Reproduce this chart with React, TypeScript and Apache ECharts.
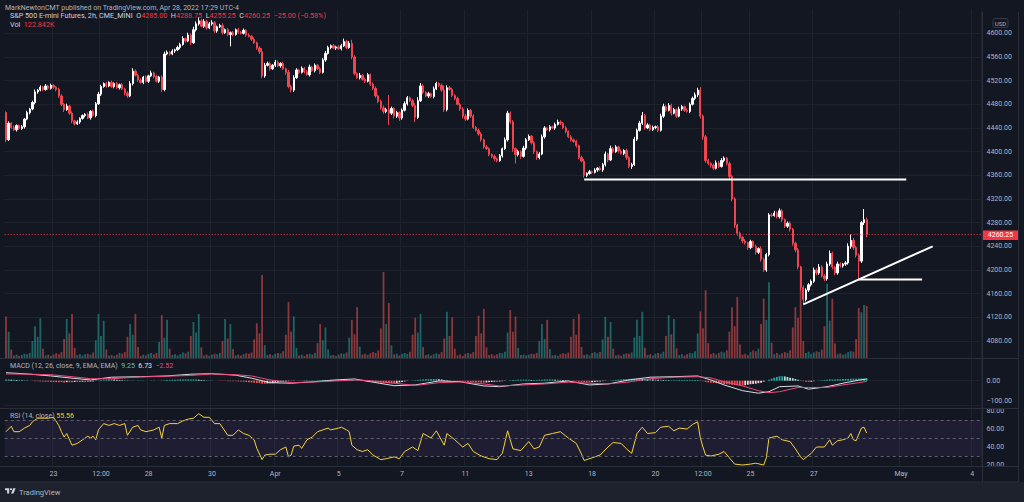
import React, { useEffect, useRef } from "react";
import * as echarts from "echarts";

// ---------- DATA (2h bars, ES futures, Mar 21 12:00 -> Apr 28 16:00) ----------
const firstOpen = 4466;
const closes = [
  4420, 4448, 4441, 4437, 4444, 4439, 4442, 4455, 4466, 4472,
  4483, 4501, 4504, 4509, 4505, 4511, 4507, 4512, 4509, 4505,
  4494, 4480, 4471, 4477, 4465, 4452, 4447, 4450, 4456, 4461,
  4463, 4457, 4468, 4461, 4481, 4497, 4510, 4515, 4511, 4517,
  4510, 4515, 4508, 4513, 4506, 4499, 4494, 4515, 4536, 4529,
  4521, 4517, 4526, 4519, 4528, 4533, 4527, 4519, 4526, 4505,
  4565, 4568, 4565, 4570, 4572, 4576, 4581, 4591, 4587, 4597,
  4584, 4606, 4616, 4621, 4612, 4620, 4609, 4616, 4618, 4604,
  4611, 4613, 4601, 4606, 4598, 4601, 4598, 4606, 4602, 4600,
  4605, 4597, 4595, 4590, 4584, 4575, 4569, 4528, 4546, 4549,
  4540, 4546, 4551, 4545, 4549, 4540, 4534, 4510, 4504, 4525,
  4538, 4534, 4541, 4535, 4530, 4543, 4537, 4546, 4540, 4534,
  4555, 4566, 4576, 4579, 4575, 4577, 4574, 4579, 4586, 4576,
  4583, 4560, 4532, 4525, 4529, 4522, 4519, 4530, 4514, 4507,
  4494, 4485, 4474, 4468, 4471, 4465, 4473, 4460, 4466, 4457,
  4470, 4481, 4491, 4486, 4478, 4458, 4486, 4511, 4500, 4494,
  4498, 4493, 4506, 4515, 4512, 4504, 4471, 4508, 4505, 4495,
  4490, 4480, 4472, 4460, 4455, 4470, 4460, 4441, 4436, 4430,
  4420, 4408, 4405, 4395, 4392, 4388, 4385, 4393, 4405, 4420,
  4465, 4450, 4405, 4395, 4400, 4392, 4406, 4420, 4426, 4415,
  4400, 4390, 4396, 4425, 4440, 4437, 4442, 4440, 4446, 4450,
  4448, 4440, 4434, 4425, 4420, 4417, 4410, 4390, 4384, 4360,
  4363, 4366, 4365, 4369, 4372, 4369, 4378, 4396, 4386, 4405,
  4400, 4408, 4401, 4397, 4402, 4390, 4375, 4378, 4421, 4436,
  4448, 4461, 4440, 4445, 4437, 4441, 4442, 4436, 4460, 4476,
  4470, 4478, 4465, 4471, 4460, 4472, 4476, 4470, 4468, 4480,
  4490, 4496, 4504, 4460, 4425, 4385, 4380, 4377, 4372, 4381,
  4375, 4385, 4389, 4380, 4358, 4320, 4276, 4262, 4255, 4249,
  4246, 4238, 4248, 4240, 4230, 4236, 4218, 4200, 4226, 4293,
  4292, 4296, 4290, 4300, 4285, 4274, 4279, 4269, 4245, 4234,
  4205, 4170, 4150, 4166, 4175, 4181, 4200, 4195, 4205, 4190,
  4185, 4210, 4228, 4205, 4195, 4210, 4207, 4210, 4212, 4240,
  4250, 4238, 4225, 4215, 4280, 4285, 4260.25,
];
const wickUp = [
  2, 3, 2, 3, 2, 2, 3, 2, 3, 2,
  3, 4, 2, 3, 2, 3, 2, 3, 2, 2,
  3, 3, 2, 4, 2, 3, 2, 3, 2, 2,
  2, 3, 2, 3, 3, 4, 3, 2, 3, 2,
  3, 2, 3, 2, 3, 2, 3, 4, 5, 3,
  2, 3, 2, 3, 2, 4, 2, 3, 2, 3,
  4, 3, 2, 3, 2, 3, 3, 4, 2, 4,
  3, 5, 4, 6, 3, 4, 3, 3, 4, 3,
  2, 3, 4, 2, 3, 2, 3, 2, 3, 2,
  3, 2, 3, 2, 3, 2, 3, 6, 4, 3,
  3, 2, 4, 3, 2, 3, 2, 4, 3, 4,
  3, 2, 3, 2, 3, 4, 2, 3, 2, 3,
  3, 4, 3, 2, 3, 2, 3, 3, 5, 3,
  4, 6, 3, 2, 4, 2, 3, 3, 2, 3,
  3, 2, 3, 4, 3, 25, 3, 2, 3, 2,
  3, 4, 3, 2, 3, 4, 6, 5, 3, 2,
  3, 2, 4, 3, 2, 3, 8, 4, 3, 3,
  2, 3, 2, 3, 4, 3, 2, 3, 2, 3,
  3, 2, 3, 2, 2, 3, 2, 3, 2, 4,
  4, 3, 3, 2, 3, 2, 4, 3, 3, 2,
  3, 2, 3, 4, 3, 2, 3, 2, 3, 4,
  3, 2, 3, 2, 3, 2, 3, 2, 3, 4,
  2, 3, 2, 3, 2, 3, 3, 4, 2, 5,
  3, 3, 2, 3, 2, 3, 2, 3, 4, 3,
  4, 6, 3, 3, 2, 3, 2, 3, 4, 5,
  3, 4, 3, 3, 2, 4, 3, 2, 3, 3,
  3, 4, 4, 5, 3, 3, 3, 2, 3, 4,
  3, 4, 3, 2, 3, 3, 3, 2, 3, 2,
  3, 2, 3, 2, 3, 2, 4, 3, 3, 3,
  3, 4, 3, 4, 3, 2, 3, 3, 2, 3,
  3, 2, 4, 3, 3, 3, 4, 3, 5, 3,
  3, 4, 5, 3, 2, 4, 3, 2, 3, 5,
  10, 4, 3, 3, 3, 18, 3.75,
];
const wickDown = [
  4, 2, 3, 2, 3, 2, 2, 3, 2, 3,
  2, 3, 3, 2, 3, 2, 3, 2, 3, 3,
  3, 3, 4, 2, 3, 4, 3, 2, 3, 2,
  3, 2, 3, 2, 3, 2, 3, 2, 3, 2,
  2, 3, 2, 3, 2, 4, 3, 2, 3, 2,
  3, 2, 3, 2, 3, 2, 3, 2, 3, 4,
  3, 2, 3, 2, 3, 2, 3, 2, 3, 2,
  4, 2, 3, 3, 2, 3, 3, 2, 3, 3,
  3, 2, 3, 2, 3, 20, 3, 2, 3, 2,
  2, 3, 2, 3, 2, 3, 4, 4, 3, 2,
  3, 2, 3, 2, 3, 2, 4, 3, 4, 3,
  2, 3, 2, 3, 2, 3, 2, 3, 2, 3,
  2, 3, 2, 3, 2, 3, 2, 3, 2, 3,
  2, 4, 3, 2, 3, 2, 3, 2, 3, 3,
  3, 3, 3, 4, 3, 20, 3, 4, 3, 5,
  3, 2, 3, 2, 3, 8, 3, 2, 3, 2,
  3, 2, 3, 2, 3, 3, 4, 3, 2, 3,
  3, 2, 3, 4, 3, 2, 3, 3, 2, 3,
  3, 3, 2, 3, 3, 4, 3, 2, 3, 2,
  3, 3, 5, 15, 3, 4, 2, 3, 2, 3,
  4, 4, 3, 2, 3, 2, 3, 2, 3, 2,
  3, 2, 3, 2, 3, 2, 3, 3, 2, 4,
  3, 2, 3, 2, 3, 2, 3, 3, 4, 2,
  3, 2, 3, 2, 3, 4, 3, 4, 2, 3,
  2, 3, 3, 2, 3, 2, 3, 3, 2, 3,
  3, 2, 4, 2, 3, 2, 3, 3, 2, 3,
  2, 3, 4, 4, 5, 4, 3, 4, 3, 2,
  3, 2, 3, 3, 4, 4, 5, 4, 3, 4,
  3, 4, 3, 3, 4, 3, 4, 3, 3, 3,
  3, 2, 3, 3, 4, 3, 3, 4, 4, 4,
  4, 5, 8, 3, 3, 3, 3, 4, 3, 3,
  4, 3, 3, 4, 4, 3, 3, 3, 3, 3,
  4, 4, 4, 31, 3, 4, 5,
];
// volume in thousands of contracts, one row per trading day
const volumes = [
  98, 62, 20, 6, 8, 5,
  7, 10, 9, 12, 40, 75, 50, 94, 22, 6, 8, 5,
  8, 11, 9, 14, 45, 92, 58, 104, 24, 7, 9, 6,
  9, 10, 8, 13, 42, 104, 52, 88, 20, 6, 7, 5,
  8, 12, 10, 14, 50, 80, 55, 104, 26, 5, 8, 6,
  10, 12, 9, 12, 38, 101, 48, 90, 22, 7, 9, 6,
  9, 13, 11, 15, 52, 85, 60, 104, 25, 6, 8, 5,
  8, 10, 9, 12, 40, 92, 46, 80, 21, 6, 8, 6,
  9, 11, 10, 13, 44, 82, 58, 196, 30, 7, 9, 6,
  10, 12, 11, 16, 55, 132, 62, 98, 24, 6, 8, 5,
  9, 10, 8, 12, 35, 80, 42, 72, 20, 6, 7, 5,
  8, 11, 10, 13, 48, 90, 56, 120, 27, 8, 10, 7,
  11, 14, 12, 18, 70, 203, 80, 130, 30, 8, 10, 6,
  10, 12, 10, 15, 55, 95, 60, 104, 26, 7, 9, 6,
  9, 11, 9, 14, 46, 109, 52, 96, 22, 6, 8, 5,
  10, 12, 10, 14, 52, 100, 58, 116, 25, 7, 9, 6,
  9, 12, 11, 15, 60, 113, 62, 98, 24, 7, 8, 6,
  8, 10, 9, 12, 40, 80, 45, 90, 21, 6, 7, 5,
  9, 11, 10, 13, 50, 92, 55, 104, 26, 7, 9, 6,
  12, 14, 11, 14, 44, 97, 50, 85, 22, 6, 8, 5,
  9, 11, 10, 13, 48, 90, 52, 109, 24, 7, 9, 6,
  10, 12, 10, 15, 52, 101, 56, 92, 23, 7, 9, 6,
  9, 12, 11, 16, 58, 110, 70, 160, 35, 9, 12, 8,
  12, 15, 13, 18, 62, 120, 75, 144, 32, 8, 10, 7,
  14, 18, 16, 22, 80, 140, 90, 179, 36, 9, 12, 8,
  11, 14, 12, 18, 72, 120, 95, 208, 40, 12, 15, 10,
  13, 16, 14, 20, 75, 175, 88, 140, 34, 9, 11, 8,
  10, 14, 16, 15, 45, 118, 108, 125, 122.842,
];
// MACD (12, 26, 9): [bar index, value]
const macdLine = [
  [0, 32], [8, 27], [17, 19], [25, 10], [32, 3], [40, 14], [51, 16], [61, 19], [70, 26], [78, 28],
  [87, 22], [93, 10], [100, -8], [108, -10], [117, -4], [125, 3], [132, 7], [138, -4], [147, -20], [155, -17],
  [164, -1], [172, -4], [181, -21], [187, -24], [196, -13], [204, -10], [213, -1], [221, -17], [228, -13], [236, 3],
  [244, 14], [253, 16], [262, 19], [267, 3], [272, -17], [279, -40], [285, -50], [289, -44], [293, -24], [300, -21],
  [304, -34], [311, -24], [317, -10], [323, 2], [326, 6.73],
];
const signalLine = [
  [0, 27], [8, 26], [17, 24], [25, 16], [32, 8], [40, 8], [51, 15], [61, 18], [70, 21], [78, 27],
  [87, 24], [93, 19], [100, 3], [108, -8], [117, -5], [125, -1], [132, 3], [138, 0], [147, -10], [155, -19],
  [164, -8], [172, -5], [181, -13], [187, -21], [196, -17], [204, -13], [213, -6], [221, -10], [228, -13], [236, -5],
  [244, 8], [253, 14], [262, 16], [267, 11], [272, -4], [279, -21], [285, -40], [289, -48], [293, -44], [300, -27],
  [304, -27], [311, -27], [317, -17], [323, -8], [326, -2.52],
];
const histValues = [
  5, 5, 4, 4, 3, 3, 2, 2, 1,
  0, -1, -2, -2, -3, -3, -4, -4, -5,
  -5, -6, -6, -6, -7, -6, -6, -6,
  -5, -5, -5, -4, -5, -5, -5,
  -3, -1, 1, 3, 4, 5, 6, 6,
  5, 4, 3, 2, 2, 1, 1, 1, 0, 1, 1,
  1, 0, 0, 1, 1, 0, 0, -1, 2, 3,
  3, 4, 4, 4, 5, 5, 5, 5, 5,
  5, 5, 4, 3, 2, 1, 1, 1,
  0, 0, -1, -1, -1, -2, -2, -2, -2,
  -3, -3, -4, -5, -6, -7, -8, -9, -10, -12, -12, -11, -11,
  -10, -8, -7, -5, -4, -3, -2, -2,
  -1, 0, 1, 1, 2, 1, 1, 1, 1,
  2, 2, 3, 3, 3, 4, 4, 4, 4, 4, 5, 4, 4, 3, 3,
  1, 0, -1, -2, -3, -4, -5, -6, -7, -8, -9, -9, -10, -10, -10,
  -9, -7, -5, -3, -1, 0, 1, 2,
  3, 4, 5, 6, 6, 7, 7, 7, 6,
  5, 3, 2, 1, 0, -1, -2, -3,
  -4, -4, -5, -6, -6, -7, -7, -8, -8, -7, -6, -5, -4, -4, -3,
  -2, -1, 0, 2, 3, 3, 4, 4, 4,
  4, 4, 3, 3, 3, 4, 4, 5, 5, 5, 5, 4, 4, 4, 3, 2, 1,
  0, -2, -3, -4, -5, -6, -7, -7,
  -6, -5, -4, -3, -2, -1, 0, 1, 2,
  3, 4, 5, 6, 7, 7, 8, 8, 8, 8, 7, 7, 6, 6,
  5, 5, 4, 4, 3, 3, 2, 2, 2, 2, 3, 3, 3, 3, 3, 3, 3, 3,
  1, -2, -5, -7, -8, -9, -10, -11, -12, -13,
  -14, -15, -16, -17, -18, -19, -19, -18, -16, -14, -13, -12, -10,
  -8, -4, 0, 4, 8, 12, 15, 18,
  18, 17, 15, 12, 10, 7, 4, 1, -2, -4, -5,
  -4, -2, 0, 1, 2, 3, 4, 5, 5, 5, 6, 6, 7,
  7, 7, 8, 8, 8, 9, 9, 9, 9.25,
];
// RSI (14): [bar index, value]
const rsiLine = [
  [0, 57], [2, 63], [3, 57], [5, 57], [7, 61], [9, 64], [10, 68], [12, 72], [16, 72], [18, 73],
  [20, 64], [21, 57], [22, 51], [23, 55], [25, 42], [27, 44], [29, 48], [31, 52], [32, 50], [33, 52],
  [34, 48], [35, 59], [37, 66], [39, 64], [41, 66], [43, 64], [45, 66], [46, 53], [48, 62], [50, 64],
  [51, 59], [53, 57], [56, 59], [58, 62], [59, 50], [60, 64], [62, 66], [65, 66], [67, 69], [69, 71],
  [71, 72], [73, 77], [75, 73], [77, 73], [79, 66], [81, 66], [84, 53], [86, 53], [88, 59], [90, 55],
  [92, 53], [94, 48], [95, 38.5], [97, 26], [98, 31], [100, 32], [102, 32], [104, 37], [106, 40], [107, 29],
  [108, 31], [109, 41], [111, 42], [112, 38.5], [114, 48], [116, 51], [118, 57], [120, 59], [122, 61], [123, 59],
  [126, 61], [127, 62], [129, 59], [130, 57], [131, 42], [133, 37], [135, 35], [137, 37], [139, 31], [142, 26],
  [144, 27], [147, 29], [149, 27], [151, 35], [154, 40], [156, 36], [158, 55], [161, 50], [163, 58], [166, 42],
  [167, 55], [170, 48], [173, 40], [175, 44], [177, 35], [180, 30], [183, 27], [186, 26], [188, 33], [190, 58],
  [192, 38], [195, 36], [198, 46], [200, 38], [202, 40], [204, 53], [207, 55], [210, 57], [213, 50], [216, 44],
  [218, 32], [219, 25], [222, 28], [225, 31], [228, 40], [230, 45], [233, 44], [235, 38], [237, 33], [239, 55],
  [241, 62], [243, 55], [246, 56], [248, 62], [251, 63], [253, 58], [255, 61], [258, 60], [260, 65], [262, 68],
  [263, 50], [264, 40], [265, 31], [267, 30], [270, 32], [272, 35], [274, 28], [276, 21], [279, 20], [282, 21],
  [284, 22], [287, 20], [288, 28], [289, 50], [292, 52], [294, 48], [297, 46], [299, 38], [301, 29], [302, 26],
  [305, 33], [307, 40], [310, 40], [312, 48], [313, 42], [315, 47], [317, 48], [319, 50], [320, 55], [321, 48],
  [322, 47], [324, 61], [325, 62], [326, 55.56],
];
// hand-drawn trend lines: [bar index, price]
const supportLine = [[219, 4353], [341, 4353]];
const trendLine = [[302, 4142], [351, 4240]];
const pivotLine = [[323, 4184], [347, 4184]];
const lastPrice = 4260.25;
// time axis labels and the bar slot they sit on
const xTickIndex = [18, 36, 54, 78, 102, 126, 150, 174, 198, 222, 246, 264, 282, 306, 339, 366];
const xTickText = ["23", "12:00", "28", "30", "Apr", "5", "7", "11", "13", "18", "20", "12:00", "25", "27", "May", "4"];
const SLOTS = 370;

const FONT = 'Roboto, "Noto Sans", sans-serif';
const BG = "#131722";
const GRIDLINE = "#1e222d";
const BORDER = "#2a2e39";
const TXT = "#b2b5be";
const UP = "#ffffff";
const DOWN = "#f0454f";

export default function App() {
  const ref = useRef<HTMLDivElement>(null);
  useEffect(() => {
    if (!ref.current) return;
    let logoOk = true;
    try {
      echarts.graphic.registerShape(
        "tvlogo",
        (echarts.graphic as any).extendPath("M14 22H7V11H0V4h14v18zM28 22h-8l7.5-18h8L28 22z", {})
      );
    } catch (e) {
      logoOk = false;
    }
    const chart = echarts.init(ref.current, null, { renderer: "svg", width: 1024, height: 502 });

    const cats = Array.from({ length: SLOTS }, (_, i) => String(i));
    const tickMap = new Map<number, string>();
    xTickIndex.forEach((ix, k) => tickMap.set(ix, xTickText[k]));

    const opens = closes.map((c, i) => (i === 0 ? firstOpen : closes[i - 1]));
    const candles = closes.map((c, i) => {
      const o = opens[i];
      return [o, c, Math.min(o, c) - wickDown[i], Math.max(o, c) + wickUp[i]];
    });
    const vol = volumes.map((v, i) => ({
      value: v,
      itemStyle: { color: closes[i] >= opens[i] ? "rgba(38,166,154,0.55)" : "rgba(239,83,80,0.55)" },
    }));
    const hist = histValues.map((h, i) => {
      const p = i === 0 ? h : histValues[i - 1];
      let color;
      if (h >= 0) color = h >= p ? "#26a69a" : "#b2dfdb";
      else color = h <= p ? "#ff5252" : "#ffcdd2";
      return { value: h, itemStyle: { color } };
    });

    const L = 4.68;
    const R = 42.5;
    const grids = [
      { left: L, right: R, top: 9.63, height: 355.02 },
      { left: L, right: R, top: 355.7, height: 75 },
      { left: L, right: R, top: 393, height: 90 },
      { left: L, right: R, top: 466.5, height: 1 },
    ];
    const mkX = (gi: number, labels: boolean) => ({
      type: "category",
      gridIndex: gi,
      data: cats,
      boundaryGap: true,
      axisLine: { show: false },
      axisTick: { show: false },
      z: labels ? 5 : 0,
      axisLabel: labels
        ? {
            show: true,
            interval: (idx: number) => tickMap.has(idx),
            formatter: (_v: string, idx: number) => tickMap.get(idx) ?? "",
            color: TXT,
            fontSize: 7,
            fontFamily: FONT,
            margin: 2.5,
          }
        : { show: false },
      splitLine: labels
        ? { show: false }
        : { show: true, interval: (idx: number) => tickMap.has(idx), lineStyle: { color: GRIDLINE, width: 1 } },
    });
    const fmt2 = (v: number) => (v < 0 ? "\u2212" : "") + Math.abs(v).toFixed(2);
    const yLabel = { color: TXT, fontSize: 7, fontFamily: FONT, margin: 5, formatter: fmt2, showMinLabel: false, showMaxLabel: false };
    const macdLabel = {
      ...yLabel,
      formatter: (v: number) => (v < 0 ? "{lo|" + fmt2(v) + "}" : fmt2(v)),
      rich: { lo: { color: TXT, fontSize: 7, fontFamily: FONT, padding: [0, 0, 9, 0] } },
    };

    const option: any = {
      backgroundColor: BG,
      animation: false,
      grid: grids,
      xAxis: [mkX(0, false), mkX(1, false), mkX(2, false), mkX(3, true)],
      yAxis: [
        {
          type: "value", gridIndex: 0, position: "right", min: 4040, max: 4640, interval: 40,
          axisLine: { show: false }, axisTick: { show: false }, axisLabel: yLabel,
          splitLine: { show: true, showMinLine: false, showMaxLine: false, lineStyle: { color: GRIDLINE } },
        },
        { type: "value", gridIndex: 0, min: -15.7, max: 822, show: false, splitLine: { show: false } },
        {
          type: "value", gridIndex: 1, position: "right", min: -200, max: 100, interval: 100, z: 0,
          axisLine: { show: false }, axisTick: { show: false }, axisLabel: macdLabel,
          splitLine: { show: true, showMinLine: false, showMaxLine: false, lineStyle: { color: GRIDLINE } },
        },
        {
          type: "value", gridIndex: 2, position: "right", min: 0, max: 100, interval: 20, z: 3,
          axisLine: { show: false }, axisTick: { show: false }, axisLabel: yLabel,
          splitLine: { show: false },
        },
        { type: "value", gridIndex: 3, show: false, splitLine: { show: false } },
      ],
      series: [
        { type: "bar", xAxisIndex: 0, yAxisIndex: 1, data: vol, barWidth: 1.8, z: 1, silent: true },
        {
          type: "candlestick", xAxisIndex: 0, yAxisIndex: 0, data: candles, barWidth: 1.8, z: 3, silent: true,
          itemStyle: { color: UP, color0: DOWN, borderColor: UP, borderColor0: DOWN, borderWidth: 1 },
          markLine: {
            silent: true, symbol: ["none", "none"], label: { show: false },
            lineStyle: { color: "#f23645", type: [1, 2], width: 1 },
            data: [{ yAxis: lastPrice }],
          },
        },
        ...[supportLine, trendLine, pivotLine].map((d) => ({
          type: "line", xAxisIndex: 0, yAxisIndex: 0, data: d, symbol: "none", z: 4, silent: true,
          lineStyle: { color: "#ffffff", width: 2 },
        })),
        { type: "bar", xAxisIndex: 1, yAxisIndex: 2, data: hist, barWidth: 1.8, z: 2, silent: true },
        {
          type: "line", xAxisIndex: 1, yAxisIndex: 2, data: macdLine, symbol: "none", z: 3, silent: true,
          lineStyle: { color: "#d8dbe3", width: 1 },
        },
        {
          type: "line", xAxisIndex: 1, yAxisIndex: 2, data: signalLine, symbol: "none", z: 3, silent: true,
          lineStyle: { color: "#ee4a7c", width: 1 },
        },
        {
          type: "line", xAxisIndex: 2, yAxisIndex: 3, data: rsiLine, symbol: "none", z: 3, silent: true,
          lineStyle: { color: "#f3d23b", width: 1 },
          markArea: {
            silent: true, itemStyle: { color: "rgba(126,87,194,0.1)" },
            data: [[{ yAxis: 30 }, { yAxis: 70 }]],
          },
          markLine: {
            silent: true, symbol: ["none", "none"], label: { show: false },
            lineStyle: { color: "#5d606b", type: [3, 3], width: 1 },
            data: [{ yAxis: 70 }, { yAxis: 50 }, { yAxis: 30 }],
          },
        },
      ],
      graphic: [
        { type: "rect", z: 1, shape: { x: 983, y: 409, width: 35, height: 57 }, style: { fill: BG } },
        { type: "rect", z: 4, shape: { x: 0, y: 467, width: 1018, height: 15 }, style: { fill: BG } },
        { type: "rect", z: 4, shape: { x: 0, y: 482, width: 1024, height: 20 }, style: { fill: "#1e222d" } },
        ...[358.5, 408.5, 466.5, 482].map((y) => ({
          type: "line", z: 6, shape: { x1: 0, y1: y, x2: 1018, y2: y }, style: { stroke: BORDER, lineWidth: 1 },
        })),
        { type: "line", z: 6, shape: { x1: 982.5, y1: 12, x2: 982.5, y2: 482 }, style: { stroke: BORDER, lineWidth: 1 } },
        { type: "line", z: 6, shape: { x1: 1018.5, y1: 12, x2: 1018.5, y2: 482 }, style: { stroke: BORDER, lineWidth: 1 } },
        { type: "rect", z: 6, shape: { x: 993, y: 18.5, width: 15, height: 9, r: 2 }, style: { fill: BG, stroke: "#363a45", lineWidth: 1 } },
        { type: "text", z: 7, x: 1000.5, y: 23, style: { text: "USD", fill: TXT, fontSize: 6, fontFamily: FONT, align: "center", verticalAlign: "middle" } },
        { type: "rect", z: 6, shape: { x: 983, y: 230.5, width: 35, height: 9.5 }, style: { fill: "#f23645" } },
        { type: "text", z: 7, x: 1000.5, y: 235.3, style: { text: "4260.25", fill: "#ffffff", fontSize: 7, fontFamily: FONT, align: "center", verticalAlign: "middle" } },
        { type: "text", z: 7, x: 5, y: 7.5, style: { text: "MarkNewtonCMT published on TradingView.com, Apr 28, 2022 17:29 UTC-4", fill: TXT, fontSize: 7, fontFamily: FONT, verticalAlign: "middle" } },
        {
          type: "text", z: 7, x: 10, y: 15,
          style: {
            text: "{n|S&P 500 E-mini Futures, 2h, CME_MINI}  {k|O}{v|4285.00}  {k|H}{v|4288.75}  {k|L}{v|4255.25}  {k|C}{v|4260.25}  {v|\u221225.00 (\u22120.58%)}",
            verticalAlign: "middle", fontSize: 7.2, fontFamily: FONT, fill: "#d1d4dc",
            rich: {
              n: { fill: "#d1d4dc", fontSize: 7.2, fontFamily: FONT },
              k: { fill: "#d1d4dc", fontSize: 7.2, fontFamily: FONT },
              v: { fill: "#f23645", fontSize: 7.2, fontFamily: FONT },
            },
          },
        },
        {
          type: "text", z: 7, x: 10, y: 24.5,
          style: {
            text: "{k|Vol}  {v|122.842K}", verticalAlign: "middle", fontSize: 7.2, fontFamily: FONT, fill: "#d1d4dc",
            rich: { k: { fill: "#d1d4dc", fontSize: 7.2, fontFamily: FONT }, v: { fill: "#f23645", fontSize: 7.2, fontFamily: FONT } },
          },
        },
        {
          type: "text", z: 7, x: 10, y: 366,
          style: {
            text: "{k|MACD (12, 26, close, 9, EMA, EMA)}  {a|9.25}  {b|6.73}  {c|\u22122.52}", verticalAlign: "middle", fontSize: 7, fontFamily: FONT, fill: TXT,
            rich: {
              k: { fill: TXT, fontSize: 7, fontFamily: FONT },
              a: { fill: "#5fc2b5", fontSize: 7, fontFamily: FONT },
              b: { fill: "#e0e3eb", fontSize: 7, fontFamily: FONT },
              c: { fill: "#ee4a7c", fontSize: 7, fontFamily: FONT },
            },
          },
        },
        {
          type: "text", z: 7, x: 10, y: 416,
          style: {
            text: "{k|RSI (14, close)} {a|55.56}", verticalAlign: "middle", fontSize: 7, fontFamily: FONT, fill: TXT,
            rich: { k: { fill: TXT, fontSize: 7, fontFamily: FONT }, a: { fill: "#f3d23b", fontSize: 7, fontFamily: FONT } },
          },
        },
        ...(logoOk
          ? [
              { type: "tvlogo", z: 7, x: 5, y: 487, scaleX: 0.3, scaleY: 0.3, style: { fill: "#d1d4dc" } },
              { type: "circle", z: 7, shape: { cx: 5 + 20 * 0.3, cy: 487 + 7.5 * 0.3, r: 1.1 }, style: { fill: "#d1d4dc" } },
            ]
          : []),
        { type: "text", z: 7, x: 19, y: 492, style: { text: "TradingView", fill: TXT, fontSize: 7.5, fontFamily: FONT, verticalAlign: "middle" } },
      ],
    };
    chart.setOption(option);
    return () => chart.dispose();
  }, []);

  return (
    <div
      ref={ref}
      style={{ position: "fixed", left: 0, top: 0, width: 1024, height: 502, background: BG }}
    />
  );
}
